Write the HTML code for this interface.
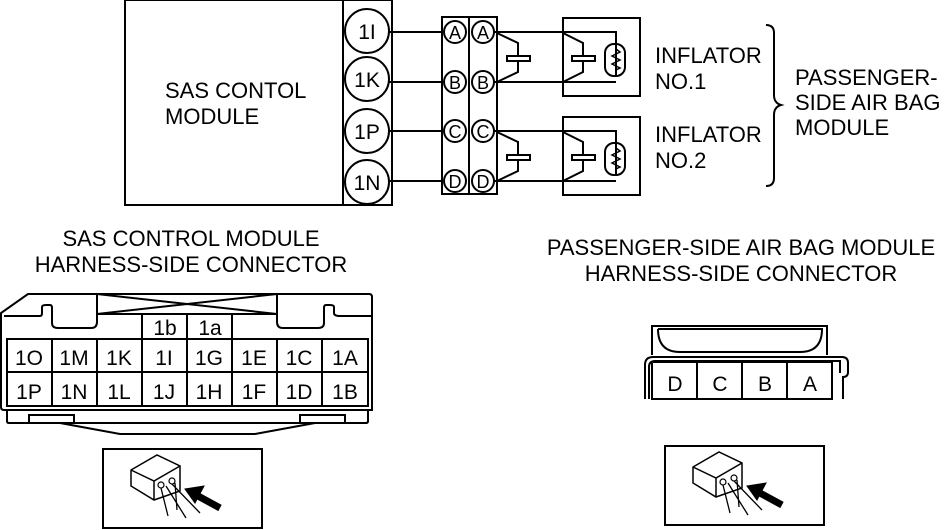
<!DOCTYPE html>
<html><head><style>body{margin:0;background:#fff}svg{display:block}text{font-family:"Liberation Sans",sans-serif;fill:#000}</style></head><body>
<svg width="951" height="530" viewBox="0 0 951 530" xmlns="http://www.w3.org/2000/svg" fill="none" stroke="#000" stroke-width="2">
<rect x="125" y="0" width="218" height="205"/>
<rect x="343" y="0" width="49" height="205"/>
<g stroke-width="2"><circle cx="367" cy="31" r="22"/><circle cx="367" cy="79" r="22"/><circle cx="367" cy="131" r="22"/><circle cx="367" cy="182" r="22"/></g>
<g font-size="21" stroke="none" text-anchor="middle"><text x="367" y="39">1I</text><text x="367" y="87">1K</text><text x="367" y="139">1P</text><text x="367" y="190">1N</text></g>
<g font-size="22" stroke="none"><text x="165" y="98">SAS CONTOL</text><text x="165" y="124">MODULE</text></g>
<path d="M389 32H443M389 82H443M389 131H443M389 181H443"/>
<rect x="442" y="17" width="27" height="177"/><rect x="469" y="17" width="28" height="177"/>
<g>
<circle cx="455" cy="32" r="11"/><circle cx="483" cy="32" r="11"/>
<circle cx="455" cy="82" r="11"/><circle cx="483" cy="82" r="11"/>
<circle cx="455" cy="131" r="11"/><circle cx="483" cy="131" r="11"/>
<circle cx="455" cy="181" r="11"/><circle cx="483" cy="181" r="11"/>
</g>
<g font-size="18" stroke="none" text-anchor="middle">
<text x="455" y="39">A</text><text x="483" y="39">A</text><text x="455" y="89">B</text><text x="483" y="89">B</text>
<text x="455" y="138">C</text><text x="483" y="138">C</text><text x="455" y="188">D</text><text x="483" y="188">D</text></g>
<g id="inf">
<path d="M494 32H563M494 82H563"/>
<path d="M497 33L518 43V56M518 61V72L497 82"/>
<rect x="507" y="56" width="23" height="5"/>
<rect x="563" y="18" width="77" height="78"/>
<path d="M563 32H616V76M563 82H616"/>
<path d="M563 33L583 43V56M583 61V72L563 82"/>
<rect x="572" y="56" width="23" height="5"/>
<rect x="605" y="44" width="20" height="32" rx="9"/>
<path d="M616 44V49L620 52L612 56L620 60L612 64L620 68L616 70V76" stroke-width="1.5"/>
</g>
<use href="#inf" transform="translate(0,99)"/>
<g font-size="22" stroke="none"><text x="655" y="63">INFLATOR</text><text x="655" y="89">NO.1</text><text x="655" y="142">INFLATOR</text><text x="655" y="168">NO.2</text>
<text x="795" y="85">PASSENGER-</text><text x="795" y="110">SIDE AIR BAG</text><text x="795" y="135">MODULE</text></g>
<path d="M766 25Q774 25 774 33V95Q774 103 781 105Q774 107 774 115V178Q774 186 766 186"/>
<g font-size="22" stroke="none" text-anchor="middle"><text x="191" y="246">SAS CONTROL MODULE</text><text x="191" y="272">HARNESS-SIDE CONNECTOR</text>
<text x="741" y="255">PASSENGER-SIDE AIR BAG MODULE</text><text x="741" y="281">HARNESS-SIDE CONNECTOR</text></g>
<path d="M28 294H369Q372 294 372 297V410H4Q1 410 1 407V313Z"/>
<path d="M4 316H40Q42 316 42 313V307Q42 305 46 305H50Q52 305 52 308V323Q52 328 58 328H91Q97 328 97 322V294"/>
<path d="M372 316H340Q334 316 334 313V307Q334 305 330 305H326Q324 305 324 308V323Q324 328 318 328H283Q277 328 277 322V294"/>
<rect x="97" y="294" width="180" height="20"/><path d="M97 294L277 314M277 294L97 314"/>
<rect x="142" y="314" width="90" height="25"/><path d="M187 314V339"/>
<rect x="7" y="339" width="361" height="67"/><path d="M7 372H368M52 339V406M97 339V406M142 339V406M187 339V406M232 339V406M277 339V406M322 339V406"/>
<path d="M7 410V421Q7 423 9 423H366Q368 423 368 421V410"/>
<rect x="29" y="415" width="45" height="8"/><rect x="300" y="415" width="45" height="8"/>
<path d="M60 423L120 434H255L315 423"/>
<g font-size="21" stroke="none" text-anchor="middle">
<text x="165" y="335">1b</text><text x="210" y="335">1a</text>
<text x="29" y="365">1O</text><text x="74" y="365">1M</text><text x="119" y="365">1K</text><text x="164" y="365">1I</text><text x="209" y="365">1G</text><text x="254" y="365">1E</text><text x="299" y="365">1C</text><text x="345" y="365">1A</text>
<text x="29" y="399">1P</text><text x="74" y="399">1N</text><text x="119" y="399">1L</text><text x="164" y="399">1J</text><text x="209" y="399">1H</text><text x="254" y="399">1F</text><text x="299" y="399">1D</text><text x="345" y="399">1B</text></g>
<path d="M652 355V326H827V355"/>
<path d="M658 329H822Q822 352 800 352H680Q658 352 658 329"/>
<path d="M645 399V365Q645 357 653 357H842Q848 357 848 363V372Q848 377 843 377V399"/>
<path d="M649 399V367Q649 361 655 361H840V373"/>
<rect x="652" y="362" width="180" height="37"/><path d="M697 362V399M742 362V399M787 362V399"/>
<g font-size="21" stroke="none" text-anchor="middle"><text x="675" y="391">D</text><text x="720" y="391">C</text><text x="765" y="391">B</text><text x="810" y="391">A</text></g>
<g id="ico">
<rect x="103" y="449" width="159" height="79"/>
<path d="M131 470L157 455L180 466V491L154 500L131 486Z M131 470L154 481L180 466M154 481V500" stroke-width="1.5"/>
<circle cx="161" cy="485" r="3" stroke-width="1.2"/><circle cx="172" cy="481" r="3" stroke-width="1.2"/>
<path d="M161 488L168 516M166 486L186 518M172 484L200 513M175 483L177 510" stroke-width="1.3"/>
<path d="M198 496L220 508" stroke-width="7"/>
<path d="M185 489L204 486L195 503Z" fill="#000" stroke-width="1"/>
</g>
<use href="#ico" transform="translate(562,-3)"/>
</svg>
</body></html>
